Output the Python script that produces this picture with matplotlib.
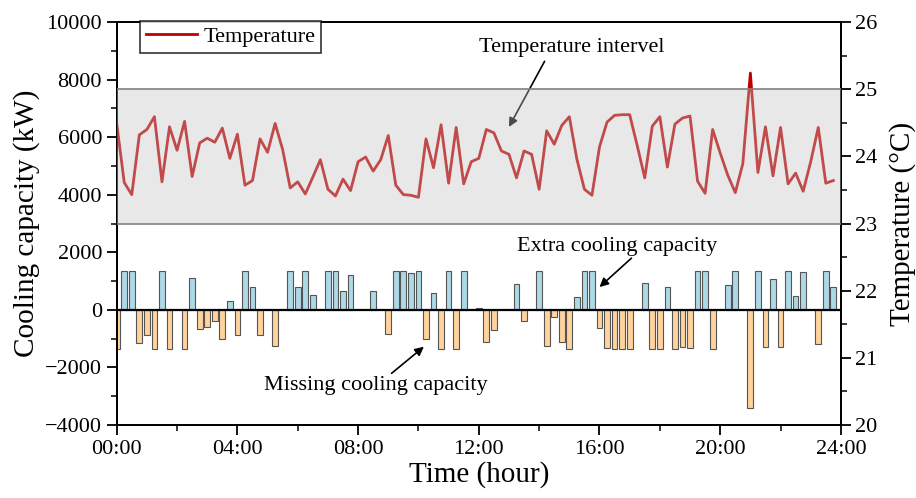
import numpy as np
import matplotlib
matplotlib.use("Agg")
import matplotlib.pyplot as plt
from matplotlib.ticker import MultipleLocator

plt.rcParams['font.family'] = ['Liberation Serif', 'DejaVu Serif']
plt.rcParams['mathtext.fontset'] = 'stix'

# 15-minute slots over a day (hours)
n_slots = 96
slot_hours = np.arange(n_slots) * 0.25

cooling = [
    -1350, 1350, 1350, -1160, -880, -1350, 1350, -1350, 0, -1350,
    1090, -680, -610, -400, -1000, 310, -890, 1350, 790, -880,
    0, -1270, 0, 1350, 810, 1350, 520, 0, 1350, 1350,
    640, 1210, 0, 0, 640, 0, -830, 1350, 1350, 1270,
    1350, -1010, 600, -1350, 1350, -1350, 1350, 0, 60, -1100,
    -690, 0, 0, 900, -370, 0, 1350, -1260, -260, -1120,
    -1350, 440, 1350, 1350, -640, -1310, -1350, -1350, -1350, 0,
    940, -1350, -1350, 780, -1350, -1300, -1330, 1350, 1350, -1350,
    0, 880, 1350, 0, -3400, 1350, -1300, 1060, -1300, 1350,
    490, 1310, 0, -1200, 1350, 810,
]

temperature = [
    24.49, 23.61, 23.43, 24.32, 24.40, 24.59, 23.62, 24.44, 24.09, 24.52,
    23.70, 24.20, 24.27, 24.21, 24.42, 23.97, 24.33, 23.57, 23.64, 24.26,
    24.06, 24.49, 24.10, 23.53, 23.62, 23.44, 23.69, 23.95, 23.51, 23.41,
    23.66, 23.49, 23.92, 23.99, 23.78, 23.95, 24.31, 23.57, 23.43, 23.42,
    23.39, 24.26, 23.83, 24.47, 23.60, 24.43, 23.59, 23.92, 23.97, 24.40,
    24.35, 24.08, 24.03, 23.68, 24.08, 24.03, 23.51, 24.38, 24.18, 24.46,
    24.59, 23.96, 23.51, 23.42, 24.14, 24.51, 24.61, 24.62, 24.62, 24.16,
    23.68, 24.45, 24.59, 23.84, 24.48, 24.57, 24.60, 23.63, 23.45, 24.40,
    24.05, 23.72, 23.46, 23.89, 25.24, 23.76, 24.44, 23.71, 24.43, 23.59,
    23.75, 23.48, 23.92, 24.43, 23.60, 23.64,
]

xtick_positions = [0, 4, 8, 12, 16, 20, 24]
xtick_labels = ["00:00", "04:00", "08:00", "12:00", "16:00", "20:00", "24:00"]
temp_band = (23, 25)

cooling = np.array(cooling, dtype=float)

fig = plt.figure(figsize=(9.16, 4.98), dpi=100)
ax = fig.add_axes([0.1274, 0.1466, 0.7906, 0.8092])
ax2 = ax.twinx()

bw = 0.19
pos = cooling > 0
neg = cooling < 0
ax.bar(slot_hours[pos], cooling[pos], width=bw, color='#add8e6',
       edgecolor='#555555', linewidth=0.8, zorder=2)
ax.bar(slot_hours[neg], cooling[neg], width=bw, color='#ffd39b',
       edgecolor='#555555', linewidth=0.8, zorder=2)
ax.axhline(0, color='black', lw=1.6, zorder=3)

ax.set_xlim(0, 24)
ax.set_ylim(-4000, 10000)
ax.set_xticks(xtick_positions)
ax.set_xticklabels(xtick_labels)
ax.xaxis.set_minor_locator(MultipleLocator(2))
ax.yaxis.set_major_locator(MultipleLocator(2000))
ax.yaxis.set_minor_locator(MultipleLocator(1000))

ax2.set_ylim(20, 26)
ax2.yaxis.set_major_locator(MultipleLocator(1))
ax2.yaxis.set_minor_locator(MultipleLocator(0.5))

line, = ax2.plot(slot_hours, temperature, color='#c00000', lw=2.0, zorder=2,
                 label='Temperature')
ax2.axhspan(temp_band[0], temp_band[1], facecolor='#c3c3c3', alpha=0.38,
            edgecolor='none', zorder=3)
ax2.axhline(temp_band[0], color='#808080', lw=1.2, zorder=4)
ax2.axhline(temp_band[1], color='#808080', lw=1.2, zorder=4)

for a in (ax, ax2):
    a.tick_params(axis='both', which='major', direction='out', length=7,
                  width=1.3, labelsize=16)
    a.tick_params(axis='both', which='minor', direction='out', length=4,
                  width=1.1)
    for s in a.spines.values():
        s.set_linewidth(1.3)

ax.set_ylabel('Cooling capacity (kW)', fontsize=21, labelpad=4)
ax2.set_ylabel('Temperature (°C)', fontsize=21, labelpad=8)
ax.set_xlabel('Time (hour)', fontsize=21, labelpad=2)

leg = ax2.legend(handles=[line], loc='upper left', bbox_to_anchor=(0.017, 1.03),
                 fontsize=16, frameon=True, fancybox=False, edgecolor='black',
                 handlelength=2.3, borderpad=0.25, handletextpad=0.3)
leg.get_frame().set_linewidth(1.2)
leg.set_zorder(10)

arrow = dict(arrowstyle='-|>', color='black', lw=1.2, mutation_scale=13,
             shrinkA=0, shrinkB=0)
ax.text(15.08, 9124, 'Temperature intervel', ha='center', va='center', fontsize=16, zorder=6)
ax.annotate('', xy=(13.0, 6354), xytext=(14.18, 8634), arrowprops=arrow, zorder=6)
ax.text(16.57, 2215, 'Extra cooling capacity', ha='center', va='center', fontsize=16, zorder=6)
ax.annotate('', xy=(16.0, 792), xytext=(17.06, 1798), arrowprops=arrow, zorder=6)
ax.text(8.59, -2611, 'Missing cooling capacity', ha='center', va='center', fontsize=16, zorder=6)
ax.annotate('', xy=(10.18, -1281), xytext=(9.11, -2205), arrowprops=arrow, zorder=6)

fig.savefig('out.png', dpi=100)
